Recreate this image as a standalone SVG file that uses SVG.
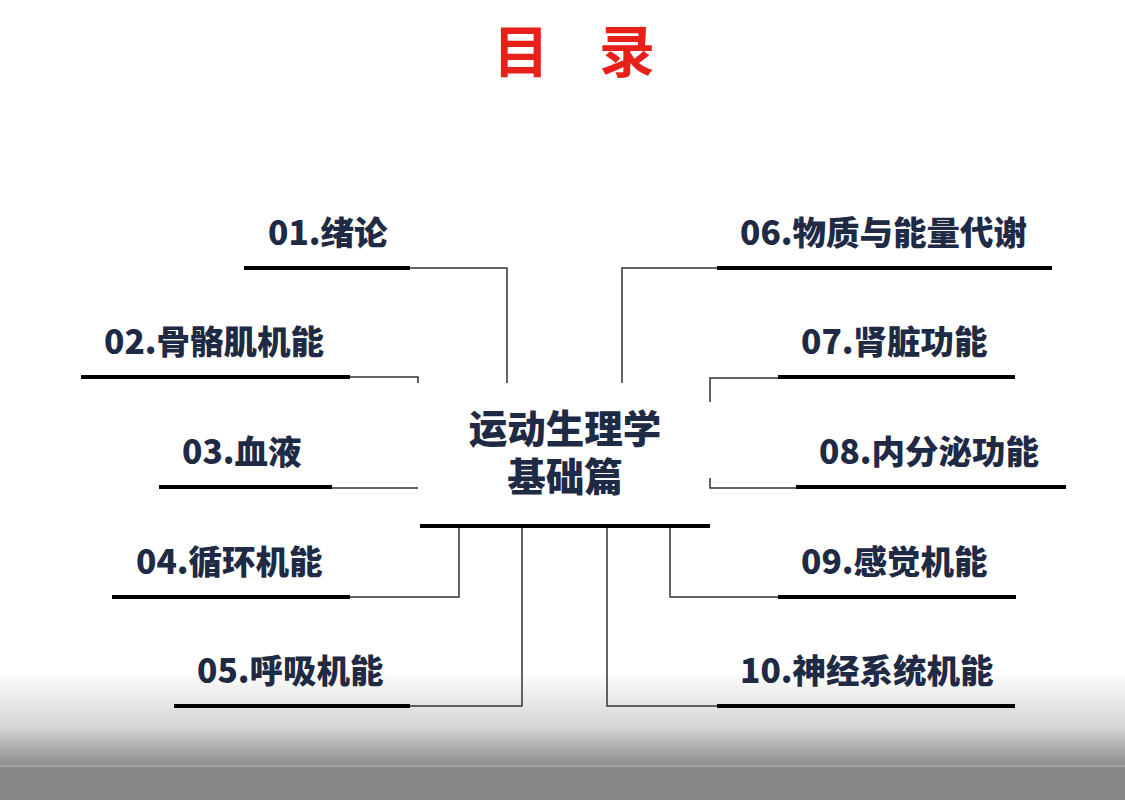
<svg xmlns="http://www.w3.org/2000/svg" width="1125" height="800" viewBox="0 0 1125 800">
<defs>
<linearGradient id="bg" x1="0" y1="0" x2="0" y2="1">
<stop offset="0" stop-color="#ffffff"/>
<stop offset="0.6" stop-color="#d4d4d4"/>
<stop offset="1" stop-color="#8c8c8c"/>
</linearGradient>
</defs>
<style>
.t{font-family:"Noto Sans CJK SC","Liberation Sans",sans-serif;font-weight:900;font-size:33.5px;fill:#1f2a44}
.big{font-size:38.5px}
.bar{stroke:#000;stroke-width:4}
.c{fill:none;stroke:#333;stroke-width:1.5}
</style>
<rect width="1125" height="800" fill="#fff"/>
<rect y="670" width="1125" height="96" fill="url(#bg)"/>
<rect y="766" width="1125" height="34" fill="#888"/>
<line x1="0" y1="766" x2="1125" y2="766" stroke="#bbb" stroke-width="1"/>
<text x="493" y="72" font-family="'Noto Sans CJK SC',sans-serif" font-size="56" font-weight="bold" fill="#e8201a" letter-spacing="50">目录</text>
<g id="connectors">
<path class="c" d="M410 268H507V383"/>
<path class="c" d="M717 268H622V383"/>
<path class="c" d="M350 377H418V383"/>
<path class="c" d="M710 402V378H778"/>
<path class="c" d="M332 488H418"/>
<path class="c" d="M710 478V488H796"/>
<path class="c" d="M350 597H459V528"/>
<path class="c" d="M778 597H670V528"/>
<path class="c" d="M410 706H522V528"/>
<path class="c" d="M607 528V706H717"/>
</g>
<g id="center"><line class="bar" x1="420" y1="526" x2="710" y2="526"/>
<text class="t big" x="565" y="443" text-anchor="middle">运动生理学</text>
<text class="t big" x="565" y="491" text-anchor="middle">基础篇</text></g>
<g id="n01"><line class="bar" x1="244" y1="268" x2="410" y2="268"/><text class="t" x="268" y="245">01.绪论</text></g>
<g id="n02"><line class="bar" x1="81" y1="377" x2="350" y2="377"/><text class="t" x="104" y="354">02.骨骼肌机能</text></g>
<g id="n03"><line class="bar" x1="159" y1="487" x2="332" y2="487"/><text class="t" x="182" y="464">03.血液</text></g>
<g id="n04"><line class="bar" x1="112" y1="597" x2="350" y2="597"/><text class="t" x="136" y="574">04.循环机能</text></g>
<g id="n05"><line class="bar" x1="174" y1="706" x2="410" y2="706"/><text class="t" x="197" y="683">05.呼吸机能</text></g>
<g id="n06"><line class="bar" x1="717" y1="268" x2="1052" y2="268"/><text class="t" x="740" y="245">06.物质与能量代谢</text></g>
<g id="n07"><line class="bar" x1="778" y1="377" x2="1015" y2="377"/><text class="t" x="801" y="354">07.肾脏功能</text></g>
<g id="n08"><line class="bar" x1="796" y1="487" x2="1066" y2="487"/><text class="t" x="819" y="464">08.内分泌功能</text></g>
<g id="n09"><line class="bar" x1="778" y1="597" x2="1016" y2="597"/><text class="t" x="801" y="574">09.感觉机能</text></g>
<g id="n10"><line class="bar" x1="717" y1="706" x2="1015" y2="706"/><text class="t" x="740" y="683">10.神经系统机能</text></g>
</svg>
